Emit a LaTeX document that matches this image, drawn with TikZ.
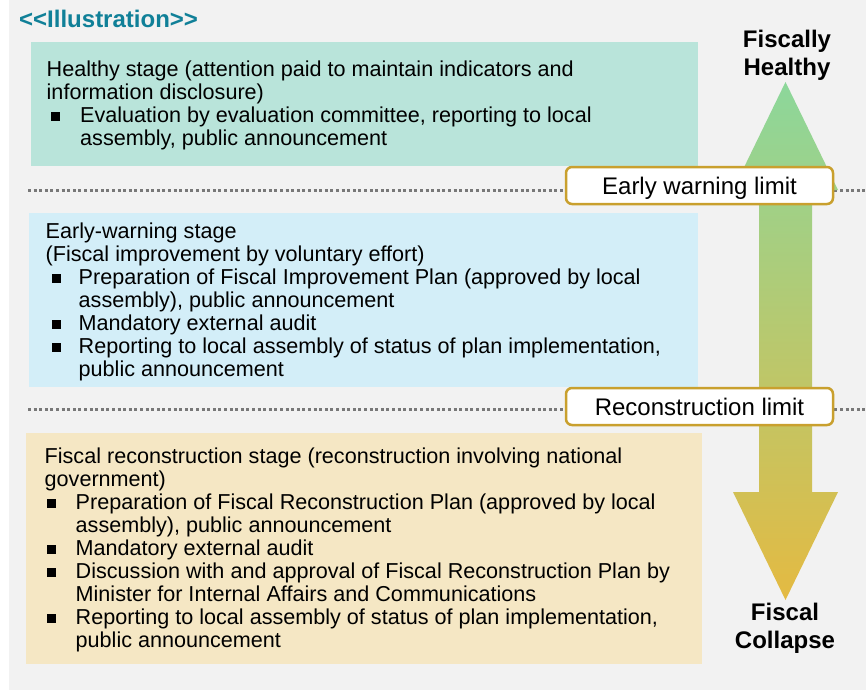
\documentclass[tikz,border=0pt]{standalone}
\usepackage{fontspec}
\setmainfont{Liberation Sans}
\definecolor{bgray}{RGB}{242,242,242}
\definecolor{titleteal}{RGB}{16,128,152}
\definecolor{greenbox}{RGB}{185,228,218}
\definecolor{bluebox}{RGB}{211,238,248}
\definecolor{yellowbox}{RGB}{245,231,196}
\definecolor{goldline}{RGB}{201,160,46}
\definecolor{dotgray}{RGB}{120,120,120}
\definecolor{arrowtop}{RGB}{140,215,155}
\definecolor{arrowbot}{RGB}{228,186,66}
\newcommand{\stbul}[2]{\makebox[#2pt][l]{\hspace*{#1pt}\rule[1.5pt]{9pt}{9pt}}}
\newcommand{\stind}[1]{\hspace*{#1pt}}
\tikzset{
  stagetext/.style={anchor=base west, inner sep=0pt},
  limitbox/.style={draw=goldline, fill=white, line width=2.5pt, rounded corners=6pt,
    minimum width=267pt, minimum height=37pt, inner sep=0pt,
    text height=20pt, text depth=2pt, font=\fontsize{24}{28}\selectfont},
  dotline/.style={draw=dotgray, line width=3pt, dash pattern=on 3pt off 2.6pt},
  endlabel/.style={anchor=base, inner sep=0pt, font=\bfseries\fontsize{24}{28}\selectfont}
}
\begin{document}
\begin{tikzpicture}[x=1pt,y=-1pt]
\useasboundingbox (0,0) rectangle (866,690);
\fill[bgray] (9,0) rectangle (866,690);
% title
\node[anchor=base west, inner sep=0pt, text=titleteal, font=\bfseries\fontsize{24}{28}\selectfont] (title) at (19,28) {<{}<Illustration>{}>};
% stage boxes
\fill[greenbox] (31,42) rectangle (698,166);
\fill[bluebox] (29,213) rectangle (698,387);
\fill[yellowbox] (26,433) rectangle (702,664);
% dotted limit lines
\coordinate (d1a) at (28,190);
\coordinate (d1b) at (866,190);
\coordinate (d2a) at (28,409);
\coordinate (d2b) at (866,409);
\draw[dotline] (d1a) -- (d1b);
\draw[dotline] (d2a) -- (d2b);
% double arrow
\shade[top color=arrowtop, bottom color=arrowbot]
  (785.5,82) -- (838,190) -- (812,190) -- (812,492) -- (838,492) -- (785.5,600)
  -- (733,492) -- (759,492) -- (759,190) -- (733,190) -- cycle;
% limit boxes
\node[limitbox] (ewl) at (699.5,185.5) {Early warning limit};
\node[limitbox] (rcl) at (699.5,406.5) {Reconstruction limit};
% end labels
\node[endlabel] (healthy) at (787,47.5) {\parbox[t]{140pt}{\centering\bfseries\fontsize{24}{28}\selectfont Fiscally\\Healthy}};
\node[endlabel] (collapse) at (785,620) {\parbox[t]{140pt}{\centering\bfseries\fontsize{24}{28}\selectfont Fiscal\\Collapse}};
% stage texts
\node[stagetext] (healthytext) at (46.5,77) {\parbox[t]{700pt}{\raggedright\fontsize{21.6}{23}\selectfont
Healthy stage (attention paid to maintain indicators and\\
information disclosure)\\
\stbul{4.5}{33.5}Evaluation by evaluation committee, reporting to local\\
\stind{33.5}assembly, public announcement}};
\node[stagetext] (warningtext) at (45.5,238) {\parbox[t]{700pt}{\raggedright\fontsize{21.6}{23}\selectfont
Early-warning stage\\
(Fiscal improvement by voluntary effort)\\
\stbul{6.5}{33}Preparation of Fiscal Improvement Plan (approved by local\\
\stind{33}assembly), public announcement\\
\stbul{6.5}{33}Mandatory external audit\\
\stbul{6.5}{33}Reporting to local assembly of status of plan implementation,\\
\stind{33}public announcement}};
\node[stagetext] (recontext) at (44.5,463) {\parbox[t]{700pt}{\raggedright\fontsize{21.6}{23}\selectfont
Fiscal reconstruction stage (reconstruction involving national\\
government)\\
\stbul{2.5}{31}Preparation of Fiscal Reconstruction Plan (approved by local\\
\stind{31}assembly), public announcement\\
\stbul{2.5}{31}Mandatory external audit\\
\stbul{2.5}{31}Discussion with and approval of Fiscal Reconstruction Plan by\\
\stind{31}Minister for Internal Affairs and Communications\\
\stbul{2.5}{31}Reporting to local assembly of status of plan implementation,\\
\stind{31}public announcement}};
\end{tikzpicture}
\end{document}
